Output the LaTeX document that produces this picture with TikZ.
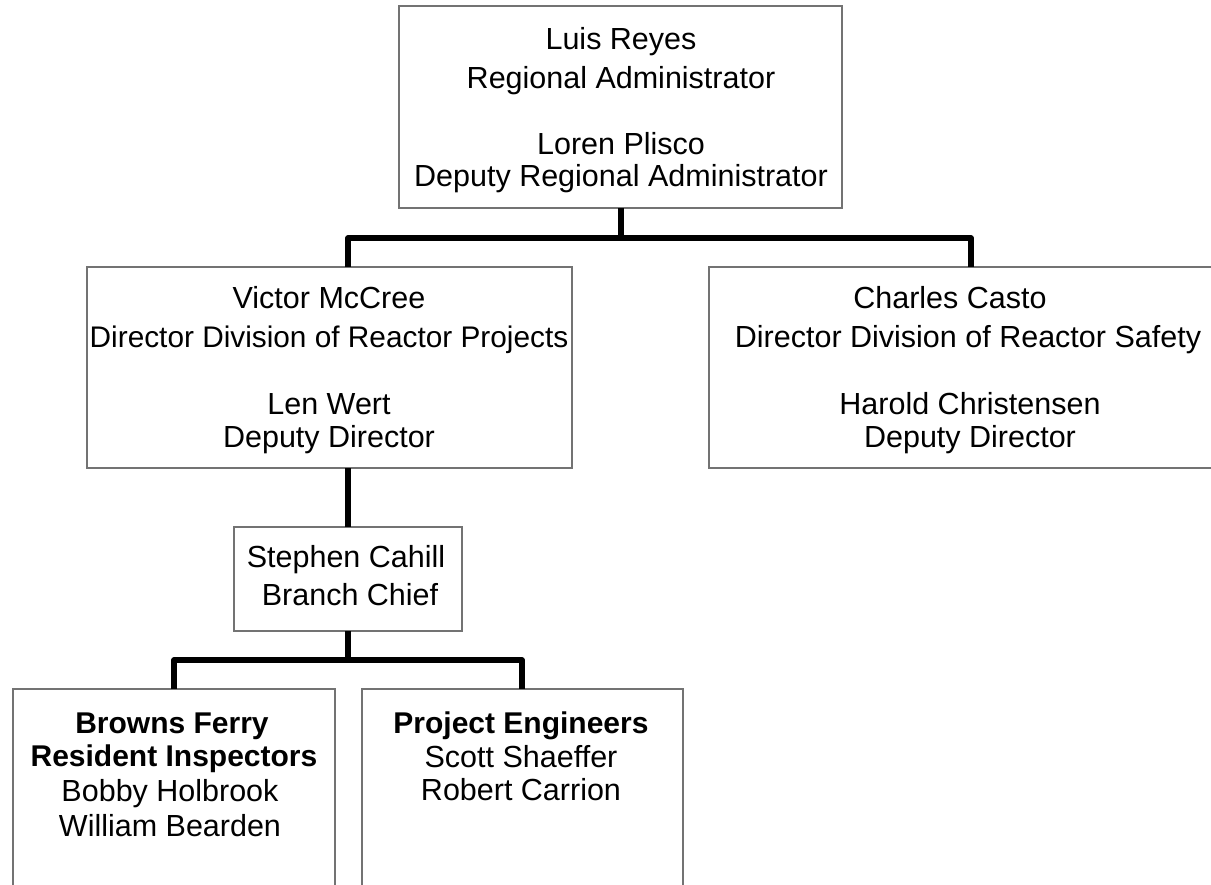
\documentclass[tikz,border=0pt]{standalone}
\usepackage{fontspec}
\setmainfont{Liberation Sans}
\begin{document}
\begin{tikzpicture}[x=1pt,y=-1pt,
  box/.style={draw=black!55,line width=1.2pt,fill=white},
  conn/.style={line width=5.5pt,line join=round},
  txt/.style={anchor=base,inner sep=0pt,font=\fontsize{30.5}{36}\selectfont},
  stxt/.style={anchor=base,inner sep=0pt,font=\fontsize{29.8}{36}\selectfont},
  btxt/.style={anchor=base,inner sep=0pt,font=\fontsize{30}{36}\selectfont\bfseries}]
\useasboundingbox (0,0) rectangle (1211,885);
% boxes
\draw[box] (399,6) rectangle (842,208);
\draw[box] (87,267) rectangle (572,468);
\draw[box] (709,267) rectangle (1240,468);
\draw[box] (234,527) rectangle (462,631);
\draw[box] (13,689) rectangle (335,900);
\draw[box] (362,689) rectangle (683,900);
% anchor coordinates
\coordinate (topB) at (621,208);
\coordinate (bar1) at (621,238);
\coordinate (lT) at (348,267);
\coordinate (rT) at (971,267);
\coordinate (lB) at (348,468);
\coordinate (sT) at (348,527);
\coordinate (sB) at (348,631);
\coordinate (bar2) at (348,660);
\coordinate (blT) at (174,689);
\coordinate (brT) at (522,689);
% connectors
\draw[conn] (topB) -- (bar1);
\draw[conn] (lT) |- (bar1) -| (rT);
\draw[conn] (lB) -- (sT);
\draw[conn] (sB) -- (bar2);
\draw[conn] (blT) |- (bar2) -| (brT);
% texts
\node[txt] (t1) at (621,50) {Luis Reyes};
\node[txt] (t2) at (621,89) {Regional Administrator};
\node[txt] (t3) at (621,155) {Loren Plisco};
\node[txt] (t4) at (621,187) {Deputy Regional Administrator};
\node[txt] (l1) at (329,309) {Victor McCree};
\node[stxt] (l2) at (329,348) {Director Division of Reactor Projects};
\node[txt] (l3) at (329,415) {Len Wert};
\node[txt] (l4) at (329,447) {Deputy Director};
\node[txt] (r1) at (950,309) {Charles Casto};
\node[txt] (r2) at (968,348) {Director Division of Reactor Safety};
\node[txt] (r3) at (970,415) {Harold Christensen};
\node[txt] (r4) at (970,447) {Deputy Director};
\node[txt] (s1) at (346,567) {Stephen Cahill};
\node[txt] (s2) at (350,605) {Branch Chief};
\node[btxt] (b1) at (172,733) {Browns Ferry};
\node[btxt] (b2) at (174,766) {Resident Inspectors};
\node[txt] (b3) at (170,801) {Bobby Holbrook};
\node[txt] (b4) at (170,836) {William Bearden};
\node[btxt] (p1) at (521,733) {Project Engineers};
\node[txt] (p2) at (521,767) {Scott Shaeffer};
\node[txt] (p3) at (521,800) {Robert Carrion};
\end{tikzpicture}
\end{document}
